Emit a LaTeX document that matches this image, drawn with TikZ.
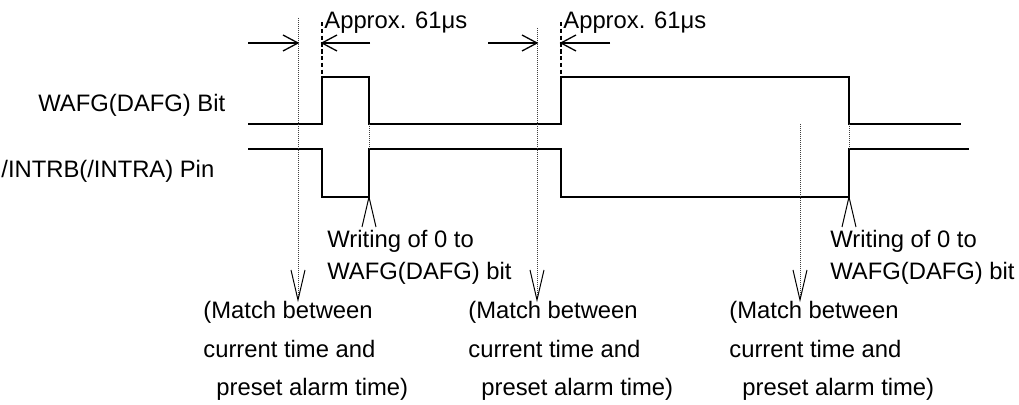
\documentclass[tikz,border=0pt]{standalone}
\usepackage{fontspec}
\setmainfont{Liberation Sans}
\begin{document}
\begin{tikzpicture}[x=0.5pt,y=-0.5pt,
  sig/.style={line width=0.75pt, line join=miter},
  thinl/.style={line width=0.5pt},
  barb/.style={line width=0.65pt},
  dotl/.style={line width=0.45pt, dash pattern=on 0.5pt off 0.5pt, black!75},
  dashl/.style={line width=0.55pt, dash pattern=on 2.2pt off 1.2pt},
  lbl/.style={inner sep=0, anchor=base west, font=\fontsize{11.9}{14}\selectfont},
  meas/.style={line width=0.6pt},
]
\useasboundingbox (0,0) rectangle (1019,405);

% ---- key coordinates ----
\coordinate (r1) at (322,77);  \coordinate (f1) at (369,77);
\coordinate (r2) at (561,77);  \coordinate (f2) at (849,77);
\coordinate (m1) at (298,300); \coordinate (m2) at (537,300); \coordinate (m3) at (800,300);
\coordinate (u1) at (369,197); \coordinate (u2) at (849,197);

% ---- signal labels ----
\node[lbl] (wafg) at (38,112) {WAFG(DAFG) Bit};
\node[lbl] (intr) at (1,178) {/INTRB(/INTRA) Pin};

% ---- WAFG trace ----
\draw[sig] (248,124) -- (322,124) -- (r1) -- (f1) -- (369,124) -- (561,124)
  -- (r2) -- (f2) -- (849,124) -- (961,124);
% ---- INTRB trace ----
\draw[sig] (248,149) -- (322,149) -- (322,197) -- (u1) -- (369,149) -- (561,149)
  -- (561,197) -- (u2) -- (849,149) -- (969,149);

% ---- dashed marks at rising edges ----
\draw[dashl] (322,22) -- (r1);
\draw[dashl] (561,22) -- (r2);

% ---- dotted guide lines ----
\draw[dotl] (298,18) -- (m1);
\draw[dotl] (537,28) -- (m2);
\draw[dotl] (800,124) -- (m3);
\draw[dotl] (369,124) -- (369,149);
\draw[dotl] (849,124) -- (849,149);

% ---- V heads at bottom of dotted lines ----
\foreach \t in {m1,m2,m3}
  \draw[thinl] (\t) +(-7,-30) -- (\t) -- +(7,-30);
% ---- V marks at write points ----
\foreach \t in {u1,u2}
  \draw[thinl] (\t) +(-7,30) -- (\t) -- +(7,30);

% ---- measurement arrows ----
\coordinate (a1) at (298,43); \coordinate (b1) at (322,43);
\coordinate (a2) at (537,43); \coordinate (b2) at (561,43);
\coordinate (s1) at (248,43); \coordinate (e1) at (370,43);
\coordinate (s2) at (488,43); \coordinate (e2) at (610,43);
\draw[meas] (s1) -- (a1);
\draw[meas] (e1) -- (b1);
\draw[meas] (s2) -- (a2);
\draw[meas] (e2) -- (b2);
\foreach \t in {a1,a2}
  \draw[barb] (\t) +(-15,-8) -- (\t) -- +(-15,8);
\foreach \t in {b1,b2}
  \draw[barb] (\t) +(15,-8) -- (\t) -- +(15,8);

\node[lbl] (ap1) at (324,29) {Approx. 61μs};
\node[lbl] (ap2) at (563,29) {Approx. 61μs};

% ---- writing labels ----
\node[lbl] (w1a) at (327,248) {Writing of 0 to};
\node[lbl] (w1b) at (327,280) {WAFG(DAFG) bit};
\node[lbl] (w2a) at (830,248) {Writing of 0 to};
\node[lbl] (w2b) at (830,280) {WAFG(DAFG) bit};

% ---- match labels ----
\foreach \x/\n in {203/1,468/2,729/3}{
  \node[lbl] (ma\n) at (\x,319) {(Match between};
  \node[lbl] (mb\n) at (\x,358) {current time and};
  \node[lbl] (mc\n) at (\x+13,396) {preset alarm time)};
}
\end{tikzpicture}
\end{document}
